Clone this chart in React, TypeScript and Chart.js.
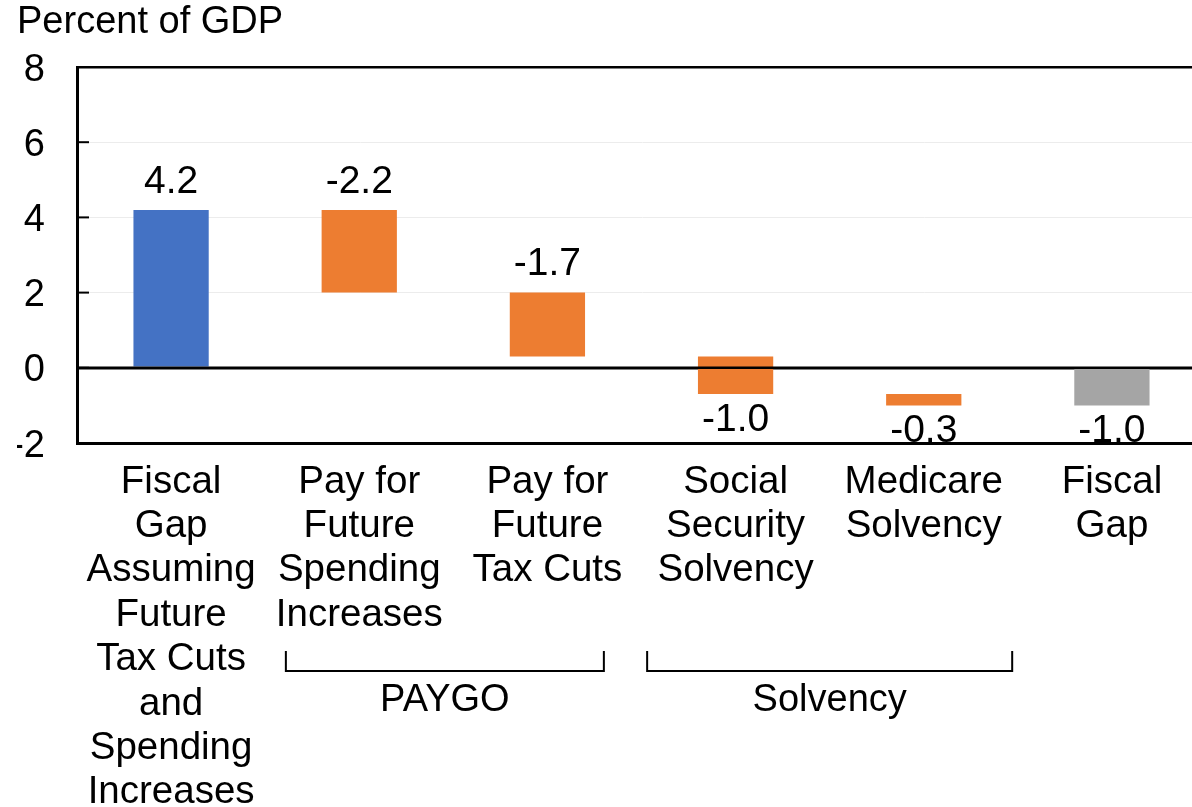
import React, { useEffect, useRef } from 'react';
import { Chart, registerables } from 'chart.js';

Chart.register(...registerables);

const FONT = '"Liberation Sans", Arial, sans-serif';

const categories: string[][] = [
  ['Fiscal', 'Gap', 'Assuming', 'Future', 'Tax Cuts', 'and', 'Spending', 'Increases'],
  ['Pay for', 'Future', 'Spending', 'Increases'],
  ['Pay for', 'Future', 'Tax Cuts'],
  ['Social', 'Security', 'Solvency'],
  ['Medicare', 'Solvency'],
  ['Fiscal', 'Gap'],
];
const changes = [4.2, -2.2, -1.7, -1.0, -0.3, -1.0];
const barKinds = ['start', 'change', 'change', 'change', 'change', 'total'];
const barColors = ['#4472C4', '#ED7D31', '#ED7D31', '#ED7D31', '#ED7D31', '#A5A5A5'];
const yTicks = [-2, 0, 2, 4, 6, 8];
const groupNames = ['PAYGO', 'Solvency'];
const groupFrom = [0.61, 2.53];
const groupTo = [2.3, 4.47];

function buildFloats(): number[][] {
  let running = 0;
  return changes.map((v, i) => {
    if (barKinds[i] === 'total') return [0, v];
    const s = running;
    running += v;
    return [s, Math.round(running * 10) / 10];
  });
}

export default function App() {
  const ref = useRef<HTMLCanvasElement | null>(null);

  useEffect(() => {
    if (!ref.current) return;
    const floats = buildFloats();

    const overlay = {
      id: 'overlay',
      afterDatasetsDraw(chart: any) {
        const { ctx, chartArea, scales } = chart;
        const x = scales.x;
        const y = scales.y;
        ctx.save();
        // zero line on top of bars
        const y0 = y.getPixelForValue(0);
        ctx.strokeStyle = '#000';
        ctx.lineWidth = 2.5;
        ctx.beginPath();
        ctx.moveTo(chartArea.left, y0);
        ctx.lineTo(chartArea.right, y0);
        ctx.stroke();
        // inner tick marks
        ctx.lineWidth = 2;
        yTicks.forEach((v) => {
          const py = y.getPixelForValue(v);
          ctx.beginPath();
          ctx.moveTo(chartArea.left, py);
          ctx.lineTo(chartArea.left + 12, py);
          ctx.stroke();
        });
        // data labels
        ctx.fillStyle = '#000';
        ctx.font = `39px ${FONT}`;
        ctx.textAlign = 'center';
        ctx.textBaseline = 'middle';
        const meta = chart.getDatasetMeta(0);
        meta.data.forEach((el: any, i: number) => {
          const [a, b] = floats[i];
          const top = Math.min(el.y, el.base);
          const bottom = Math.max(el.y, el.base);
          const above = Math.min(a, b) >= 0;
          ctx.fillText(changes[i].toFixed(1), el.x, above ? top - 28 : bottom + 26);
        });
        // group brackets
        ctx.lineWidth = 2;
        const b0 = chartArea.bottom;
        groupNames.forEach((name, i) => {
          const xa = x.getPixelForValue(groupFrom[i]);
          const xb = x.getPixelForValue(groupTo[i]);
          ctx.beginPath();
          ctx.moveTo(xa, b0 + 208);
          ctx.lineTo(xa, b0 + 228);
          ctx.lineTo(xb, b0 + 228);
          ctx.lineTo(xb, b0 + 208);
          ctx.stroke();
          ctx.font = `38px ${FONT}`;
          ctx.fillText(name, (xa + xb) / 2, b0 + 258);
        });
        ctx.restore();
      },
    };

    const chart = new Chart(ref.current, {
      type: 'bar',
      data: {
        labels: categories,
        datasets: [
          {
            data: floats as any,
            backgroundColor: barColors,
            borderWidth: 0,
            categoryPercentage: 1,
            barPercentage: 0.4,
          },
        ],
      },
      options: {
        animation: false,
        responsive: true,
        maintainAspectRatio: false,
        layout: { padding: { left: 17, right: 14, top: 0, bottom: 0 } },
        plugins: {
          legend: { display: false },
          tooltip: { enabled: false },
          title: {
            display: true,
            text: 'Percent of GDP',
            align: 'start',
            color: '#000',
            font: { family: FONT, size: 38, weight: 'normal' as any, lineHeight: 1.2 },
            padding: { top: 0, bottom: 21.4 },
          },
        },
        scales: {
          x: {
            grid: { display: false, drawTicks: false },
            border: { display: true, color: '#000', width: 3 },
            ticks: {
              color: '#000',
              font: { family: FONT, size: 38.5, lineHeight: 1.152 },
              padding: 17,
              maxRotation: 0,
              minRotation: 0,
              autoSkip: false,
            },
            afterFit: (s: any) => {
              s.height = 364;
            },
          },
          y: {
            min: -2,
            max: 8,
            afterBuildTicks: (s: any) => {
              s.ticks = yTicks.map((v) => ({ value: v }));
            },
            grid: {
              drawTicks: false,
              color: (c: any) =>
                c.tick && (c.tick.value === 0 || c.tick.value === 8 || c.tick.value === -2) ? '#000' : '#ececec',
              lineWidth: (c: any) => (c.tick && (c.tick.value === 0 || c.tick.value === 8) ? 2.5 : 1),
            },
            border: { display: true, color: '#000', width: 3 },
            ticks: {
              color: '#000',
              font: { family: FONT, size: 38, lineHeight: 0.16 },
              padding: 32,
              callback: (v: any) => ['', String(v)],
            },
            afterFit: (s: any) => {
              s.width = 60;
            },
          },
        },
      },
      plugins: [overlay],
    });

    return () => chart.destroy();
  }, []);

  return (
    <div
      style={{
        position: 'fixed',
        left: 0,
        top: 0,
        width: 1192,
        height: 807,
        overflow: 'hidden',
        background: '#fff',
      }}
    >
      <div style={{ position: 'relative', width: 1220, height: 807 }}>
        <canvas ref={ref} />
      </div>
    </div>
  );
}
